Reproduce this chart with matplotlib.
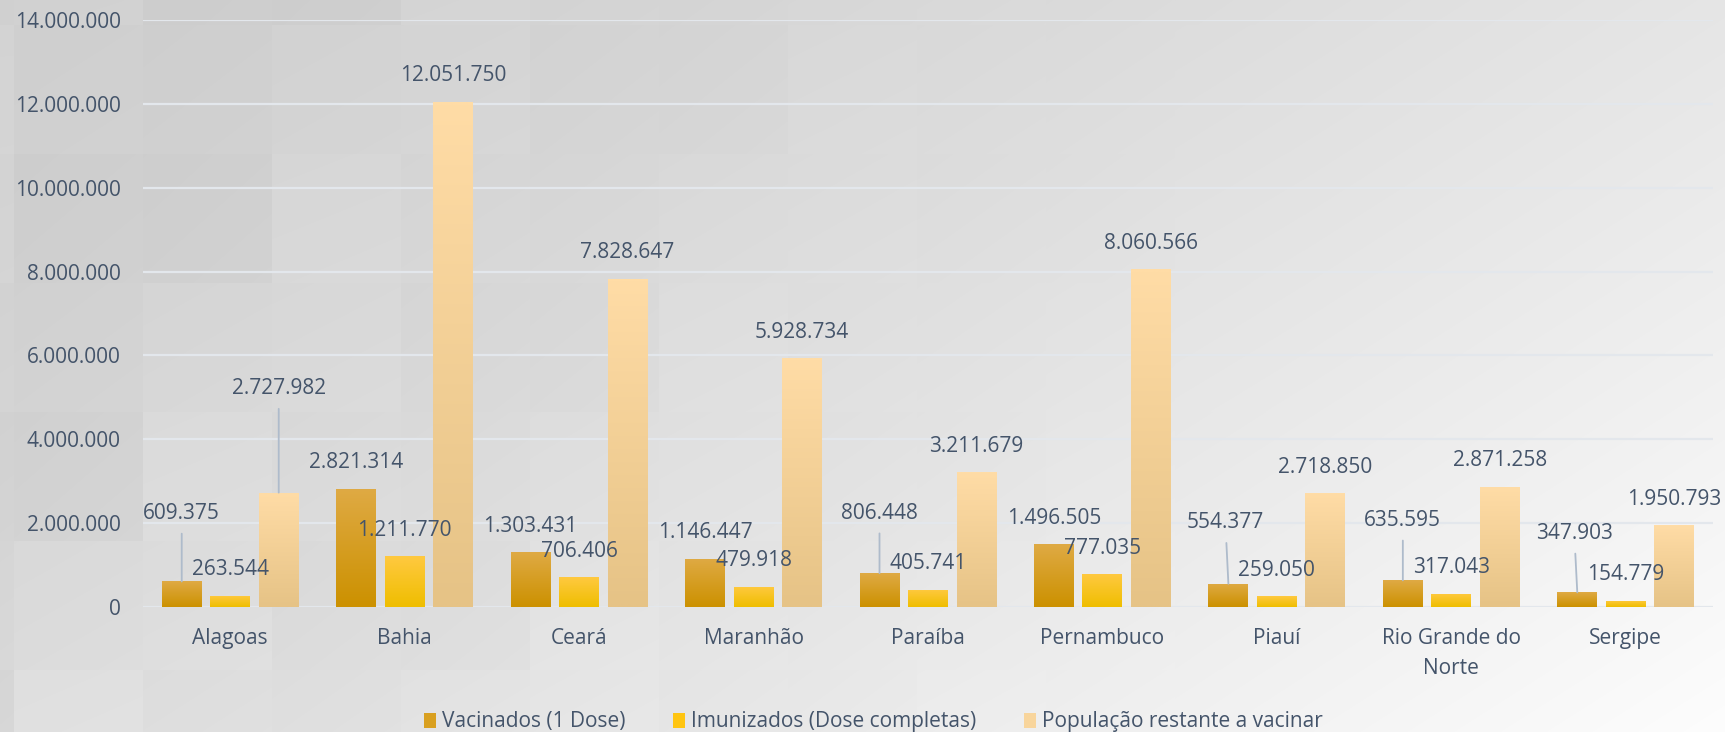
import numpy as np
import matplotlib
matplotlib.use("Agg")
import matplotlib.pyplot as plt
from matplotlib.patches import Patch
from matplotlib.colors import to_rgb

plt.rcParams['font.family'] = ['Open Sans', 'DejaVu Sans']

estados = ["Alagoas", "Bahia", "Ceará", "Maranhão", "Paraíba", "Pernambuco",
           "Piauí", "Rio Grande do\nNorte", "Sergipe"]
vacinados = [609375, 2821314, 1303431, 1146447, 806448, 1496505, 554377, 635595, 347903]
imunizados = [263544, 1211770, 706406, 479918, 405741, 777035, 259050, 317043, 154779]
restante = [2727982, 12051750, 7828647, 5928734, 3211679, 8060566, 2718850, 2871258, 1950793]
series_nomes = ["Vacinados (1 Dose)", "Imunizados (Dose completas)", "População restante a vacinar"]

# gradient colours (top, bottom) per series
grad = [("#DFAA44", "#CC9100"), ("#FFC940", "#EFBE00"), ("#FFDCA6", "#E6C386")]
solid = ["#D9A020", "#FFC511", "#F8D59C"]
TXT = "#44546A"

# label offsets in pixels (dx, dy of label centre above the bar top); default (0, 26)
offsets = {(0, 0): (0, 68), (0, 2): (0, 104), (4, 0): (0, 60), (6, 0): (-3, 61),
           (7, 0): (0, 60), (8, 0): (-3, 59)}

W, H = 1725, 732
fig = plt.figure(figsize=(W / 100, H / 100), dpi=100)

# background: grey gradient with faint blocks
bg = fig.add_axes([0, 0, 1, 1], zorder=-10)
yy, xx = np.mgrid[0:H, 0:W]
xn, yn = xx / W, yy / H
t = 0.6 * xn + 0.4 * yn
v = 0.812 + 0.18 * t ** 1.4
bi = (xx - 14) // 129
bj = (yy - 25) // 129
pat = np.array([0.0, -1.0, 0.6, -0.4, 1.0, -0.7, 0.3])
blk = pat[(bi * 3 + bj * 5) % 7] * 0.018 * np.clip(1 - xn * 1.3, 0, 1) ** 1.5
v = np.clip(v + blk, 0, 1)
bg.imshow(np.dstack([v, v, v]), aspect='auto', extent=(0, 1, 0, 1), interpolation='bilinear')
bg.axis('off')

ax = fig.add_axes([143 / W, (H - 607) / H, (1713 - 143) / W, (607 - 20) / H])
ax.set_facecolor('none')

x = np.arange(len(estados))
bw = 0.229
step = 0.278
dados = [vacinados, imunizados, restante]


def gradient_bar(patch, top, bottom):
    x0, y0 = patch.get_x(), patch.get_y()
    w, h = patch.get_width(), patch.get_height()
    c1, c2 = np.array(to_rgb(top)), np.array(to_rgb(bottom))
    f = np.linspace(0, 1, 64)[:, None]
    img = (c1 * (1 - f) + c2 * f)[:, None, :]
    im = ax.imshow(img, extent=(x0, x0 + w, y0, y0 + h), aspect='auto',
                   origin='upper', zorder=2, interpolation='bilinear')
    im.set_clip_path(patch)


fmt = lambda n: f"{n:,.0f}".replace(",", ".")

for s, vals in enumerate(dados):
    bars = ax.bar(x + (s - 1) * step, vals, bw, color=solid[s], zorder=2, linewidth=0)
    for i, b in enumerate(bars):
        gradient_bar(b, *grad[s])
        dx, dy = offsets.get((i, s), (0, 26))
        lead = (i, s) in offsets
        ax.annotate(fmt(vals[i]), xy=(b.get_x() + bw / 2, vals[i]),
                    xytext=(dx, dy), textcoords='offset pixels',
                    ha='center', va='center', fontsize=15, color=TXT, zorder=5,
                    arrowprops=dict(arrowstyle='-', color='#AEBBCB', lw=1.3,
                                    shrinkA=5, shrinkB=0) if lead else None)

ax.set_xlim(-0.5, 8.5)
ax.set_ylim(0, 14000000)
ax.set_yticks(np.arange(0, 14000001, 2000000))
ax.set_yticklabels([fmt(t) for t in np.arange(0, 14000001, 2000000)])
ax.set_xticks(x)
ax.set_xticklabels(estados, linespacing=1.6)
ax.tick_params(axis='y', length=0, pad=16, labelsize=15, labelcolor=TXT)
ax.tick_params(axis='x', length=0, pad=15, labelsize=15, labelcolor=TXT)
ax.grid(axis='y', color='#E3E7EC', lw=1.6, zorder=1)
ax.set_axisbelow(True)
for sp in ax.spines.values():
    sp.set_visible(False)

handles = [Patch(facecolor=solid[s], edgecolor='none') for s in range(3)]
fig.legend(handles, series_nomes, loc='center', bbox_to_anchor=(873.5 / W, 1 - 722 / H),
           ncol=3, frameon=False, fontsize=15, labelcolor=TXT,
           handlelength=0.55, handleheight=0.75, handletextpad=0.3, columnspacing=2.3)

fig.savefig("out.png", dpi=100)
